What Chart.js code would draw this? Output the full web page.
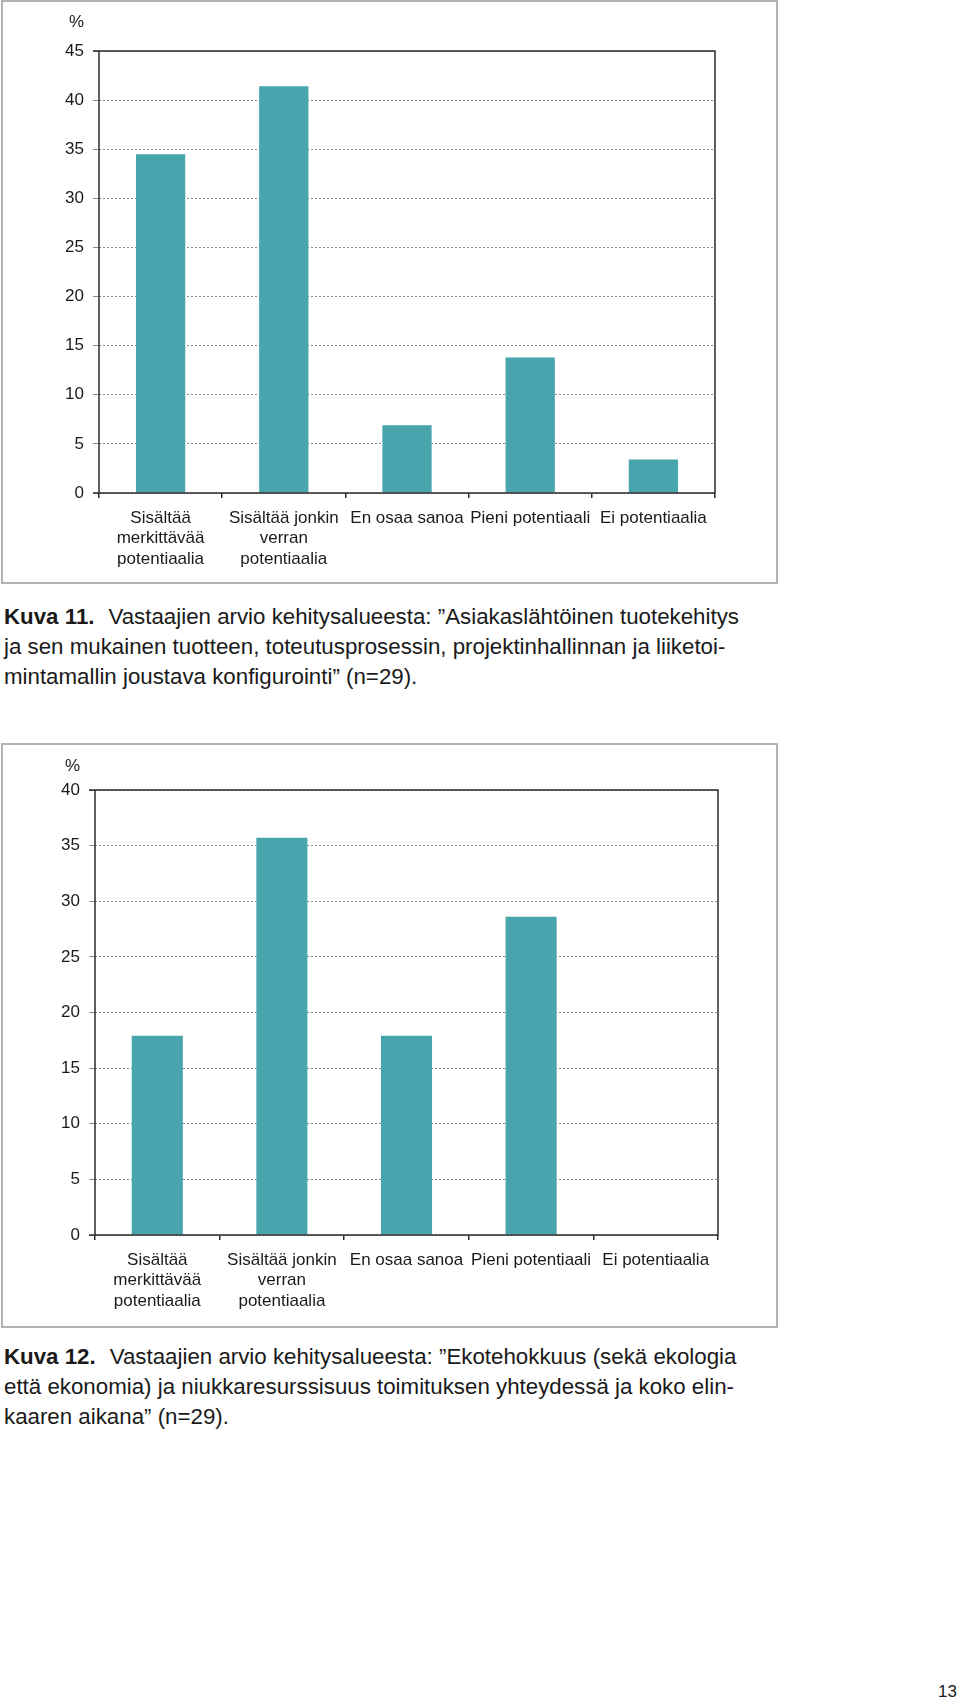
<!DOCTYPE html>
<html lang="fi">
<head>
<meta charset="utf-8">
<title>Kuva 11 ja 12</title>
<script src="https://cdn.jsdelivr.net/npm/chart.js@4.4.1/dist/chart.umd.min.js"></script>
<style>
  html, body { margin: 0; padding: 0; background: #fff; }
  body { width: 960px; height: 1704px; position: relative; overflow: hidden;
         font-family: 'Liberation Sans', Arial, Helvetica, sans-serif; color: #1a1a1a; }
  .frame { position: absolute; left: 1px; width: 773px; border: 2px solid #b3b3b3; }
  .box { position: absolute; left: 0; }
  .caption { position: absolute; left: 4px; font-size: 22.3px; line-height: 30px; white-space: nowrap; }
  .caption b { margin-right: 14px; }
  .page { position: absolute; right: 3px; top: 1682px; font-size: 17px; }
</style>
</head>
<body>

<div class="frame" style="top:0; height:580px;"></div>
<div class="box" style="top:0;"><canvas id="kuva11" width="780" height="590"></canvas></div>
<div class="caption" style="top:602px;">
  <div><b>Kuva 11.</b>Vastaajien arvio kehitysalueesta: ”Asiakaslähtöinen tuotekehitys</div>
  <div>ja sen mukainen tuotteen, toteutusprosessin, projektinhallinnan ja liiketoi-</div>
  <div>mintamallin joustava konfigurointi” (n=29).</div>
</div>

<div class="frame" style="top:743px; height:581px;"></div>
<div class="box" style="top:700px;"><canvas id="kuva12" width="780" height="640"></canvas></div>
<div class="caption" style="top:1342px;">
  <div><b>Kuva 12.</b>Vastaajien arvio kehitysalueesta: ”Ekotehokkuus (sekä ekologia</div>
  <div>että ekonomia) ja niukkaresurssisuus toimituksen yhteydessä ja koko elin-</div>
  <div>kaaren aikana” (n=29).</div>
</div>

<div class="page">13</div>

<script>
const categories = [
  ['Sisältää', 'merkittävää', 'potentiaalia'],
  ['Sisältää jonkin', 'verran', 'potentiaalia'],
  'En osaa sanoa',
  'Pieni potentiaali',
  'Ei potentiaalia'
]

// % vastaajista
const kuva11Values = [34.5, 41.4, 6.9, 13.8, 3.4]
const kuva12Values = [17.9, 35.7, 17.9, 28.6, 0]

const kuva11Max = 45
const kuva12Max = 40
const tickStep = 5

const labelFont = "'Liberation Sans', Arial, sans-serif"
const barColor = '#48a5ae'
const lineColor = '#2b2b2b'

// plot frame (top / right solid lines) and the "%" above the y labels
const plotFrame = {
  id: 'plotFrame',
  afterDraw(chart, args, opts) {
    const { ctx, chartArea: a } = chart
    ctx.save()
    ctx.strokeStyle = lineColor
    ctx.lineWidth = 1.5
    ctx.beginPath()
    ctx.moveTo(a.left - 6, a.top)
    ctx.lineTo(a.right, a.top)
    ctx.lineTo(a.right, a.bottom)
    ctx.lineTo(a.left - 6, a.bottom)
    ctx.moveTo(a.left, a.top)
    ctx.lineTo(a.left, a.bottom)
    ctx.stroke()

    ctx.fillStyle = '#1a1a1a'
    ctx.font = '17px ' + labelFont
    ctx.textAlign = 'right'
    ctx.textBaseline = 'middle'
    ctx.fillText('%', a.left - 15, a.top - opts.percentGap)
    ctx.restore()
  }
}

function drawChart(id, values, maxY, yWidth, xHeight, padding, barPct, percentGap) {
  const ctx = document.getElementById(id)
  const config = {
    type: 'bar',
    data: {
      labels: categories,
      datasets: [{
        data: values,
        backgroundColor: barColor,
        borderWidth: 0,
        barPercentage: barPct,
        categoryPercentage: 1
      }]
    },
    options: {
      responsive: false,
      animation: false,
      layout: { padding: padding },
      plugins: {
        legend: { display: false },
        tooltip: { enabled: false },
        plotFrame: { percentGap: percentGap }
      },
      scales: {
        x: {
          afterFit(scale) { scale.height = xHeight },
          grid: {
            offset: true,
            drawOnChartArea: false,
            tickLength: 5,
            color: lineColor,
            lineWidth: 1.5
          },
          border: { display: false },
          ticks: {
            padding: 10,
            color: '#1a1a1a',
            maxRotation: 0,
            autoSkip: false,
            font: { family: labelFont, size: 17, lineHeight: 1.2 }
          }
        },
        y: {
          min: 0,
          max: maxY,
          afterFit(scale) { scale.width = yWidth },
          grid: {
            color: '#8a8a8a',
            lineWidth: 1,
            tickLength: 6
          },
          border: { display: false, dash: [2, 2] },
          ticks: {
            stepSize: tickStep,
            padding: 9,
            color: '#1a1a1a',
            font: { family: labelFont, size: 17 }
          }
        }
      }
    },
    plugins: [plotFrame]
  }
  return new Chart(ctx, config)
}

document.addEventListener('DOMContentLoaded', function () {
  drawChart('kuva11', kuva11Values, kuva11Max, 99, 97,
    { top: 51, right: 65, left: 0, bottom: 0 }, 0.4, 29)
  drawChart('kuva12', kuva12Values, kuva12Max, 95, 105,
    { top: 90, right: 62, left: 0, bottom: 0 }, 0.41, 24)
})
</script>
</body>
</html>
